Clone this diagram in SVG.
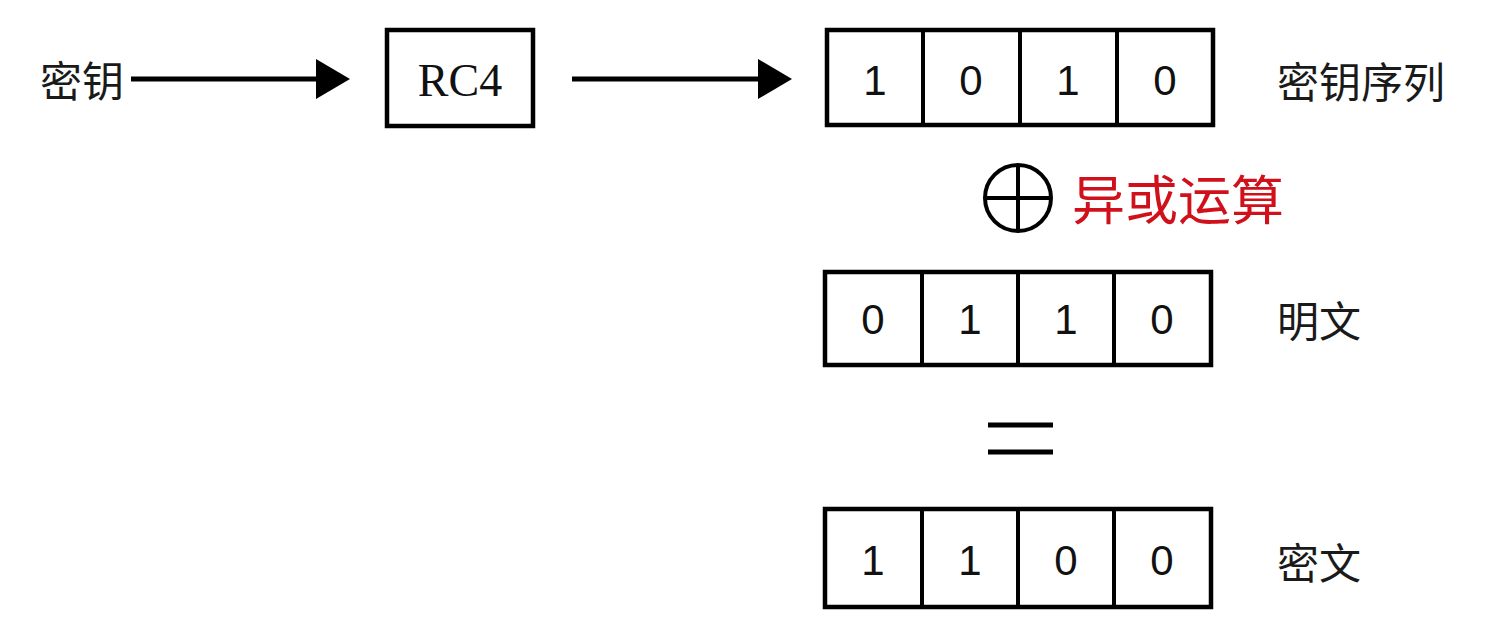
<svg xmlns="http://www.w3.org/2000/svg" width="1512" height="625" viewBox="0 0 1512 625">
<style>
.lbl{font-family:"Noto Sans CJK SC","Noto Sans CJK TC",sans-serif;font-size:42px;fill:#1a1a1a;dominant-baseline:central}
.dig{font-family:"Liberation Sans",Arial,sans-serif;font-size:42px;fill:#111;text-anchor:middle;dominant-baseline:central}
.box{fill:#fff;stroke:#000;stroke-width:4.5}
.div{stroke:#000;stroke-width:4}
.conn{stroke:#000;stroke-width:5;fill:none}
.red{font-family:"Noto Sans CJK SC",sans-serif;font-size:53px;fill:#d0101b;font-weight:400;dominant-baseline:central}
</style>
<defs>
<marker id="ah" markerUnits="userSpaceOnUse" markerWidth="34" markerHeight="40" refX="24" refY="20" orient="auto">
<path d="M0,0 L34,20 L0,40 Z" fill="#000"/>
</marker>
</defs>
<rect width="1512" height="625" fill="#fff"/>

<g id="key-label"><text class="lbl" x="40" y="78">密钥</text></g>

<g id="rc4">
<rect class="box" x="387" y="30" width="146" height="96"/>
<text x="460" y="80" font-family="Liberation Serif,serif" font-size="46" fill="#111" text-anchor="middle" dominant-baseline="central">RC4</text>
</g>

<g id="keystream">
<rect class="box" x="827" y="30" width="386" height="95"/>
<line class="div" x1="923" y1="30" x2="923" y2="125"/>
<line class="div" x1="1020" y1="30" x2="1020" y2="125"/>
<line class="div" x1="1117" y1="30" x2="1117" y2="125"/>
<text class="dig" x="875" y="80">1</text>
<text class="dig" x="971" y="80">0</text>
<text class="dig" x="1068" y="80">1</text>
<text class="dig" x="1165" y="80">0</text>
<text class="lbl" x="1277" y="79">密钥序列</text>
</g>

<g id="xor">
<circle cx="1018" cy="198" r="33" fill="none" stroke="#000" stroke-width="4"/>
<line x1="985" y1="198" x2="1051" y2="198" stroke="#000" stroke-width="4"/>
<line x1="1018" y1="165" x2="1018" y2="231" stroke="#000" stroke-width="4"/>
<text class="red" x="1072" y="197">异或运算</text>
</g>

<g id="plaintext">
<rect class="box" x="825" y="272" width="386" height="93"/>
<line class="div" x1="922" y1="272" x2="922" y2="365"/>
<line class="div" x1="1018" y1="272" x2="1018" y2="365"/>
<line class="div" x1="1114" y1="272" x2="1114" y2="365"/>
<text class="dig" x="873" y="319">0</text>
<text class="dig" x="970" y="319">1</text>
<text class="dig" x="1066" y="319">1</text>
<text class="dig" x="1162" y="319">0</text>
<text class="lbl" x="1277" y="318">明文</text>
</g>

<g id="equals">
<line x1="988" y1="425" x2="1053" y2="425" stroke="#000" stroke-width="5"/>
<line x1="988" y1="452" x2="1053" y2="452" stroke="#000" stroke-width="5"/>
</g>

<g id="ciphertext">
<rect class="box" x="825" y="509" width="386" height="98"/>
<line class="div" x1="922" y1="509" x2="922" y2="607"/>
<line class="div" x1="1018" y1="509" x2="1018" y2="607"/>
<line class="div" x1="1114" y1="509" x2="1114" y2="607"/>
<text class="dig" x="873" y="560">1</text>
<text class="dig" x="970" y="560">1</text>
<text class="dig" x="1066" y="560">0</text>
<text class="dig" x="1162" y="560">0</text>
<text class="lbl" x="1277" y="560">密文</text>
</g>

<g id="connectors">
<line class="conn" x1="131" y1="79" x2="340" y2="79" marker-end="url(#ah)"/>
<line class="conn" x1="572" y1="79" x2="782" y2="79" marker-end="url(#ah)"/>
</g>
</svg>
